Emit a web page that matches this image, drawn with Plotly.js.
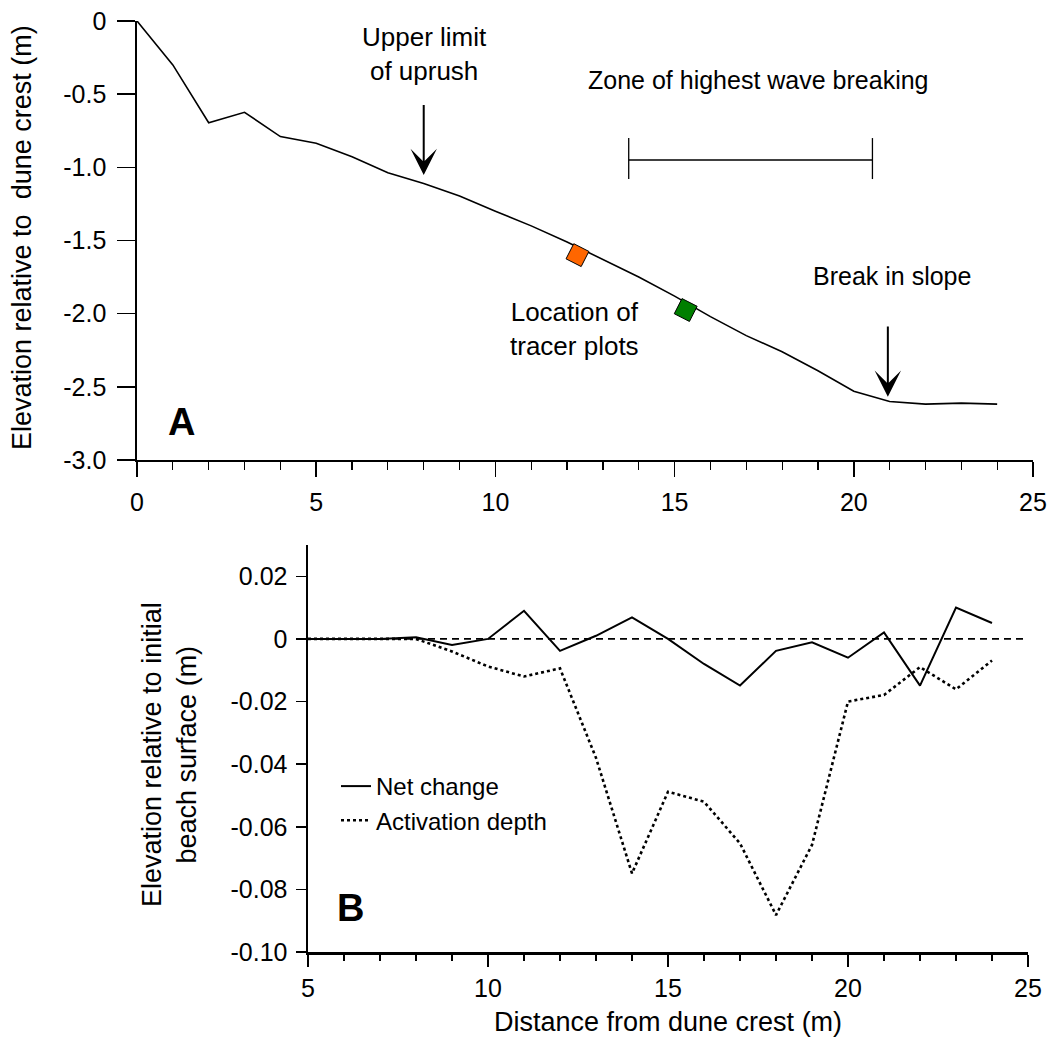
<!DOCTYPE html>
<html>
<head>
<meta charset="utf-8">
<script src="https://cdn.plot.ly/plotly-3.0.1.min.js"></script>
<style>
html,body{margin:0;padding:0;background:#fff;}
#chart{width:1053px;height:1046px;}
</style>
</head>
<body>
<div id="chart"></div>
<script>
// ---- Panel A: beach profile ----
var profileX = [0,1,2,3,4,5,6,7,8,9,10,11,12,13,14,15,16,17,18,19,20,21,22,23,24];
var profileY = [0,-0.30,-0.695,-0.624,-0.79,-0.836,-0.927,-1.037,-1.11,-1.196,-1.30,-1.40,-1.51,-1.63,-1.75,-1.88,-2.02,-2.15,-2.26,-2.39,-2.53,-2.60,-2.618,-2.611,-2.618];
var tracerX = [12.29, 15.31];
var tracerY = [-1.60, -1.975];
var tracerColors = ['#ff6600', '#007f00'];
var breakingZone = [13.72, 20.52];   // zone of highest wave breaking (m)
var breakingZoneLevel = -0.95;
var uprushLimitX = 8.0;
var slopeBreakX = 20.95;
var topYTicks = [0,-0.5,-1.0,-1.5,-2.0,-2.5,-3.0];
var topYTickText = ['0','-0.5','-1.0','-1.5','-2.0','-2.5','-3.0'];
var topXTicks = [0,5,10,15,20,25];

// ---- Panel B: change and activation depth ----
var distX = [5,6,7,8,9,10,11,12,13,14,15,16,17,18,19,20,21,22,23,24];
var netChange = [0,0,0,0.0005,-0.0019,0,0.009,-0.0038,0.001,0.0069,0,-0.008,-0.0149,-0.0038,-0.0011,-0.006,0.0021,-0.0149,0.010,0.0051];
var activationDepth = [0,0,0,0,-0.004,-0.0088,-0.012,-0.0094,-0.038,-0.0749,-0.0488,-0.052,-0.0653,-0.0882,-0.0658,-0.020,-0.0179,-0.009,-0.0161,-0.0069];
var zeroLineX = [5,25];
var zeroLineY = [0,0];
var botYTicks = [0.02,0,-0.02,-0.04,-0.06,-0.08,-0.10];
var botYTickText = ['0.02','0','-0.02','-0.04','-0.06','-0.08','-0.10'];
var botXTicks = [5,10,15,20,25];

var FONT = 'Liberation Sans, Arial, Helvetica, sans-serif';
var W = 1053, H = 1046;

var traces = [
  {x: profileX, y: profileY, xaxis:'x', yaxis:'y', mode:'lines',
   line:{color:'#000', width:1.6}, showlegend:false, cliponaxis:false, hoverinfo:'skip'},
  {x: tracerX, y: tracerY, xaxis:'x', yaxis:'y', mode:'markers',
   marker:{symbol:'square', size:17, angle:27, color: tracerColors, line:{color:'#000', width:1}},
   showlegend:false, cliponaxis:false, hoverinfo:'skip'},
  {x: zeroLineX, y: zeroLineY, xaxis:'x2', yaxis:'y2', mode:'lines',
   line:{color:'#000', width:1.8, dash:'7px,5px'}, showlegend:false, hoverinfo:'skip'},
  {x: distX, y: netChange, xaxis:'x2', yaxis:'y2', mode:'lines', name:'Net change',
   line:{color:'#000', width:2}, cliponaxis:false},
  {x: distX, y: activationDepth, xaxis:'x2', yaxis:'y2', mode:'lines', name:'Activation depth',
   line:{color:'#000', width:2.6, dash:'dot'}, cliponaxis:false}
];

var tickFont = {family: FONT, size: 25, color:'#000'};

var layout = {
  width: W, height: H,
  margin: {l:0, r:0, t:0, b:0},
  paper_bgcolor:'#fff', plot_bgcolor:'rgba(0,0,0,0)',
  font: {family: FONT, color:'#000', size: 24},
  showlegend: true,
  legend: {x: 336/W, y: 1-764/H, xanchor:'left', yanchor:'top', bgcolor:'rgba(0,0,0,0)',
           font:{family: FONT, size: 24, color:'#000'}, tracegroupgap: 0, itemclick:false},
  xaxis: {domain:[137/W, 1033/W], range:[0,25], anchor:'y', showgrid:false, zeroline:false,
          showline:true, linecolor:'#000', linewidth:1.6, ticks:'outside', ticklen:15, tickwidth:1.5,
          tickcolor:'#000', tickvals: topXTicks, tickfont: tickFont, ticklabelstandoff: 4,
          minor:{dtick:1, ticks:'outside', ticklen:8, tickwidth:1.2, tickcolor:'#000', showgrid:false}},
  yaxis: {domain:[1-460/H, 1-21/H], range:[-3,0], anchor:'x', showgrid:false, zeroline:false,
          showline:true, linecolor:'#000', linewidth:1.6, ticks:'outside', ticklen:18, tickwidth:1.5,
          tickcolor:'#000', tickvals: topYTicks, ticktext: topYTickText, tickfont: tickFont, ticklabelstandoff: 6},
  xaxis2: {domain:[308/W, 1028/W], range:[5,25], anchor:'y2', showgrid:false, zeroline:false,
          showline:true, linecolor:'#000', linewidth:2.5, ticks:'outside', ticklen:12, tickwidth:1.5,
          tickcolor:'#000', tickvals: botXTicks, tickfont: tickFont, ticklabelstandoff: 0,
          minor:{dtick:1, ticks:'outside', ticklen:6, tickwidth:1.2, tickcolor:'#000', showgrid:false}},
  yaxis2: {domain:[1-952/H, 1-545/H], range:[-0.10,0.03], anchor:'x2', showgrid:false, zeroline:false,
          showline:true, linecolor:'#000', linewidth:2.5, ticks:'outside', ticklen:10, tickwidth:1.5,
          tickcolor:'#000', tickvals: botYTicks, ticktext: botYTickText, tickfont: tickFont, ticklabelstandoff: 3},
  shapes: [
    {type:'line', xref:'x', yref:'y', x0: breakingZone[0], x1: breakingZone[1], y0: breakingZoneLevel, y1: breakingZoneLevel, line:{color:'#000', width:1.3}},
    {type:'line', xref:'x', yref:'y', x0: breakingZone[0], x1: breakingZone[0], y0: breakingZoneLevel+0.15, y1: breakingZoneLevel-0.13, line:{color:'#000', width:1.3}},
    {type:'line', xref:'x', yref:'y', x0: breakingZone[1], x1: breakingZone[1], y0: breakingZoneLevel+0.15, y1: breakingZoneLevel-0.13, line:{color:'#000', width:1.3}}
  ],
  annotations: [
    // axis titles
    {xref:'paper', yref:'paper', x: 22/W, y: 1-238/H, text:'Elevation relative to&nbsp; dune crest (m)', textangle:-90,
     showarrow:false, xanchor:'center', yanchor:'middle', font:{family:FONT, size:27, color:'#000'}},
    {xref:'paper', yref:'paper', x: 169/W, y: 1-755/H, text:'Elevation relative to initial<br>beach surface (m)', textangle:-90,
     showarrow:false, xanchor:'center', yanchor:'middle', font:{family:FONT, size:27, color:'#000'}},
    {xref:'paper', yref:'paper', x: 668/W, y: 1-1022/H, text:'Distance from dune crest (m)',
     showarrow:false, xanchor:'center', yanchor:'middle', font:{family:FONT, size:27, color:'#000'}},
    // panel A labels
    {xref:'x', yref:'y', x: 8.02, y: -0.226, text:'Upper limit<br>of uprush', showarrow:false,
     xanchor:'center', yanchor:'middle', font:{family:FONT, size:26, color:'#000'}},
    {xref:'x', yref:'y', x: 17.33, y: -0.403, text:'Zone of highest wave breaking', showarrow:false,
     xanchor:'center', yanchor:'middle', font:{family:FONT, size:25, color:'#000'}},
    {xref:'x', yref:'y', x: 12.2, y: -2.105, text:'Location of<br>tracer plots', showarrow:false,
     xanchor:'center', yanchor:'middle', font:{family:FONT, size:26, color:'#000'}},
    {xref:'x', yref:'y', x: 21.06, y: -1.743, text:'Break in slope', showarrow:false,
     xanchor:'center', yanchor:'middle', font:{family:FONT, size:25, color:'#000'}},
    {xref:'x', yref:'y', x: 1.25, y: -2.741, text:'<b>A</b>', showarrow:false,
     xanchor:'center', yanchor:'middle', font:{family:FONT, size:38, color:'#000'}},
    // arrows
    {xref:'x', yref:'y', axref:'x', ayref:'y', x: uprushLimitX, y: -1.053, ax: uprushLimitX, ay: -0.563,
     text:'', showarrow:true, arrowhead:3, arrowsize:2.2, arrowwidth:2, arrowcolor:'#000', standoff:0},
    {xref:'x', yref:'y', axref:'x', ayref:'y', x: slopeBreakX, y: -2.568, ax: slopeBreakX, ay: -2.078,
     text:'', showarrow:true, arrowhead:3, arrowsize:2.2, arrowwidth:2, arrowcolor:'#000', standoff:0},
    // panel B label
    {xref:'x2', yref:'y2', x: 6.17, y: -0.0859, text:'<b>B</b>', showarrow:false,
     xanchor:'center', yanchor:'middle', font:{family:FONT, size:38, color:'#000'}}
  ]
};

Plotly.newPlot('chart', traces, layout, {staticPlot:true, displayModeBar:false});
</script>
</body>
</html>
